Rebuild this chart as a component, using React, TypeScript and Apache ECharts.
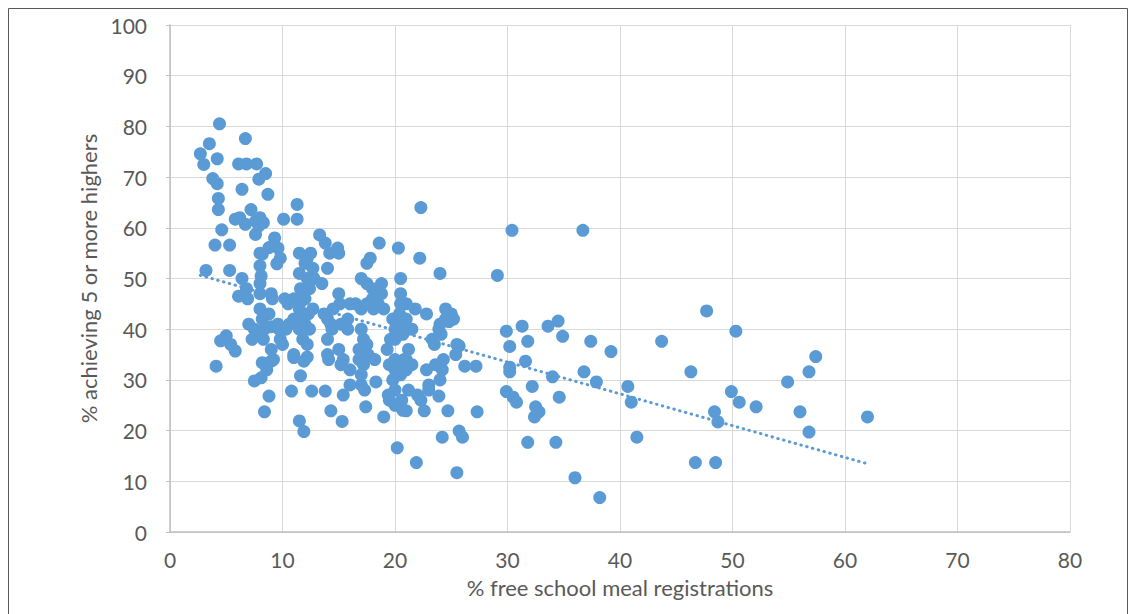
import { useEffect, useRef } from "react";
import * as echarts from "echarts";

// Schools: [% free school meal registrations, % achieving 5 or more highers]
const schoolPoints: [number, number][] = [
  [2.7, 74.6], [3.0, 72.5], [3.5, 76.6], [4.2, 73.6], [3.8, 69.7], [4.2, 68.7], [4.4, 80.5],
  [4.3, 65.8], [4.3, 63.6], [4.0, 56.6], [4.6, 59.6], [3.2, 51.6], [4.1, 32.7], [4.5, 37.7],
  [5.0, 38.7], [5.4, 37.0], [5.3, 56.6], [5.3, 51.6], [5.8, 35.7],
  [5.8, 61.7], [6.1, 72.6], [6.8, 72.6], [7.7, 72.6], [6.7, 77.6], [6.4, 67.6], [6.7, 60.7],
  [7.6, 61.3], [7.9, 60.4], [7.6, 58.7], [7.2, 63.6], [7.9, 69.6], [8.5, 70.7], [8.7, 66.6],
  [6.1, 46.5], [6.4, 50.0], [6.8, 48.0], [6.9, 46.0], [6.2, 62.0], [7.0, 41.0], [7.5, 40.0],
  [7.3, 38.0], [7.5, 29.8], [8.1, 30.4], [8.0, 62.0], [8.3, 61.0], [8.0, 55.0], [8.0, 52.5],
  [8.1, 50.5], [8.0, 49.0], [8.0, 47.0], [8.0, 44.0], [8.2, 42.0], [8.0, 39.0], [8.4, 40.0],
  [8.3, 38.0], [8.2, 33.4], [8.8, 26.8], [8.4, 23.7], [8.6, 32.0],
  [8.8, 56.1], [8.2, 54.8], [9.5, 52.9], [9.3, 58.0], [9.6, 56.0], [9.8, 54.0], [9.0, 47.0],
  [9.1, 46.0], [8.8, 43.0], [9.0, 40.5], [9.0, 36.0], [9.2, 34.0], [9.0, 33.7], [9.6, 41.0],
  [9.8, 38.0], [9.7, 40.0], [10.0, 37.0], [10.1, 61.7], [10.2, 46.0], [10.3, 40.0], [10.5, 45.0],
  [10.8, 27.8], [10.6, 41.0],
  [11.0, 46.0], [11.0, 42.0], [11.2, 41.0], [11.0, 35.0], [11.0, 34.4], [11.9, 33.7], [11.6, 30.8],
  [11.3, 64.6], [11.3, 61.7], [11.5, 55.0], [11.5, 51.0], [11.6, 48.0], [11.8, 47.0], [11.5, 44.0],
  [11.8, 42.0], [11.5, 40.0], [11.8, 38.0], [11.5, 21.9], [11.9, 19.8], [12.0, 53.0], [12.2, 54.0],
  [12.2, 50.0], [12.4, 48.0], [12.0, 46.0], [12.3, 43.0], [12.0, 41.0], [12.4, 40.0], [12.2, 37.0],
  [12.5, 55.0], [12.7, 52.0], [12.8, 50.0], [12.7, 44.0], [12.6, 27.8], [12.2, 34.5],
  [13.3, 58.6], [13.8, 57.0], [13.5, 49.0], [14.0, 52.0], [13.7, 43.0], [14.0, 42.0], [14.0, 38.0],
  [14.0, 35.0], [14.1, 34.0], [13.8, 27.8], [14.2, 55.0], [14.5, 44.0], [14.3, 41.0], [14.4, 40.0],
  [14.3, 23.9], [14.9, 56.0], [15.0, 55.0], [15.0, 47.0], [15.1, 45.0], [15.2, 41.0], [15.0, 36.0],
  [15.4, 34.0], [15.2, 33.0], [15.4, 27.0], [15.3, 21.8], [15.8, 42.0], [15.8, 40.0], [16.0, 45.0],
  [16.0, 32.0], [16.0, 29.0],
  [16.5, 45.0], [16.8, 36.0], [16.8, 34.0], [17.0, 50.0], [17.0, 44.0], [17.0, 40.0], [17.2, 38.0],
  [17.2, 33.0], [17.0, 31.0], [17.0, 29.0], [17.3, 28.0], [17.5, 49.0], [17.5, 53.0], [17.8, 54.0],
  [17.5, 45.0], [17.5, 37.0], [17.6, 35.0], [17.4, 24.7], [18.0, 48.0], [18.0, 46.0], [18.1, 44.0],
  [18.2, 34.0], [18.3, 29.6], [18.6, 57.0], [18.5, 45.0], [18.8, 49.0], [18.8, 47.0], [19.0, 44.0],
  [19.0, 22.7], [19.3, 36.0], [19.5, 33.0], [19.4, 27.0], [19.5, 26.0], [19.6, 38.0],
  [19.8, 42.0], [20.0, 40.0], [20.0, 38.0], [20.0, 34.0], [20.0, 32.0], [19.8, 30.0], [20.0, 28.0],
  [20.0, 25.0], [20.3, 56.0], [20.5, 50.0], [20.5, 47.0], [20.5, 45.0], [20.4, 43.0], [20.5, 41.0],
  [20.7, 39.0], [20.5, 33.0], [20.5, 31.0], [20.8, 34.0], [20.6, 26.0], [20.7, 24.0], [20.2, 16.6],
  [21.0, 45.0], [21.0, 42.0], [21.1, 40.0], [21.2, 36.0], [21.0, 34.0], [21.0, 32.0], [21.2, 28.0],
  [21.0, 23.9], [21.5, 40.0], [21.5, 33.0], [21.8, 44.0], [22.0, 27.0], [22.3, 64.0], [22.2, 54.0],
  [21.9, 13.7], [22.3, 26.0], [22.6, 23.9],
  [22.8, 43.0], [22.8, 32.0], [23.0, 29.0], [23.0, 28.0], [23.3, 38.0], [23.5, 37.0], [23.6, 33.0],
  [23.9, 40.0], [24.0, 51.0], [24.0, 41.0], [24.1, 39.0], [24.3, 34.0], [24.2, 32.0], [24.0, 30.0],
  [23.9, 26.8], [24.2, 18.7], [24.5, 44.0], [24.5, 42.0], [24.7, 23.9], [24.8, 41.5], [25.2, 42.0],
  [25.4, 35.0], [25.7, 36.7], [25.5, 37.0], [25.5, 11.7], [25.7, 19.9], [26.0, 18.7], [26.2, 32.7],
  [27.2, 32.7], [27.3, 23.7], [25.0, 43.0],
  [29.1, 50.6], [29.9, 39.6], [30.2, 36.6], [30.2, 32.5], [30.2, 31.6], [29.9, 27.7], [30.5, 26.6],
  [30.8, 25.6], [30.4, 59.5], [31.3, 40.6], [31.8, 37.6], [31.6, 33.7], [31.8, 17.7], [32.2, 28.7],
  [32.5, 24.7], [32.8, 23.7], [32.4, 22.7], [33.6, 40.6], [34.0, 30.6], [34.5, 41.6], [34.6, 26.6],
  [34.3, 17.7], [34.9, 38.6], [36.0, 10.7], [36.7, 59.5], [36.8, 31.6], [37.4, 37.6], [37.9, 29.6],
  [38.2, 6.8], [39.2, 35.6],
  [40.7, 28.7], [41.0, 25.6], [41.5, 18.7], [43.7, 37.6], [46.3, 31.6], [46.7, 13.7], [47.7, 43.6],
  [48.4, 23.7], [48.5, 13.7], [48.7, 21.7], [49.9, 27.7], [50.3, 39.6], [50.6, 25.6], [52.1, 24.7],
  [54.9, 29.6], [56.0, 23.7], [56.8, 31.6], [57.4, 34.6], [56.8, 19.7], [62.0, 22.7],
];

const xAxisTitle = "% free school meal registrations";
const yAxisTitle = "% achieving 5 or more highers";

// Ordinary least-squares linear trendline over the data's x range
function linearTrend(points: [number, number][]): [number, number][] {
  const n = points.length;
  let sx = 0, sy = 0, sxx = 0, sxy = 0;
  for (const [x, y] of points) {
    sx += x; sy += y; sxx += x * x; sxy += x * y;
  }
  const slope = (n * sxy - sx * sy) / (n * sxx - sx * sx);
  const intercept = (sy - slope * sx) / n;
  const xs = points.map((p) => p[0]);
  const x0 = Math.min(...xs);
  const x1 = Math.max(...xs);
  return [
    [x0, intercept + slope * x0],
    [x1, intercept + slope * x1],
  ];
}

const FONT = "Lato, 'Open Sans', sans-serif";
const TEXT = "#595959";
const BLUE = "#5B9BD5";

export default function App() {
  const ref = useRef<HTMLDivElement>(null);

  useEffect(() => {
    if (!ref.current) return;
    const chart = echarts.init(ref.current, undefined, { renderer: "svg" });
    chart.setOption({
      animation: false,
      backgroundColor: "#ffffff",
      textStyle: { fontFamily: FONT },
      graphic: [
        {
          type: "rect",
          shape: { x: 8.5, y: 8.5, width: 1119, height: 640 },
          style: { fill: "none", stroke: "#595959", lineWidth: 1 },
          silent: true,
        },
      ],
      grid: { left: 170, right: 63, top: 25, bottom: 82 },
      xAxis: {
        type: "value",
        min: 0,
        max: 80,
        interval: 10,
        name: xAxisTitle,
        nameLocation: "middle",
        nameGap: 44,
        nameTextStyle: { color: TEXT, fontSize: 22, fontFamily: FONT },
        axisLine: { show: true, lineStyle: { color: "#BFBFBF", width: 1.5 } },
        axisTick: { show: false },
        axisLabel: { color: TEXT, fontSize: 21, margin: 17, fontFamily: FONT },
        splitLine: { show: true, lineStyle: { color: "#D9D9D9", width: 1 } },
      },
      yAxis: {
        type: "value",
        min: 0,
        max: 100,
        interval: 10,
        name: yAxisTitle,
        nameLocation: "middle",
        nameGap: 67,
        nameTextStyle: { color: TEXT, fontSize: 22, fontFamily: FONT },
        axisLine: { show: true, lineStyle: { color: "#BFBFBF", width: 1.5 } },
        axisTick: { show: true, length: 4, lineStyle: { color: "#BFBFBF" } },
        axisLabel: { color: TEXT, fontSize: 21, margin: 23, fontFamily: FONT },
        splitLine: { show: true, lineStyle: { color: "#D9D9D9", width: 1 } },
      },
      series: [
        {
          type: "scatter",
          data: schoolPoints,
          symbol: "circle",
          symbolSize: 13,
          itemStyle: { color: BLUE, opacity: 1 },
          z: 2,
        },
        {
          type: "line",
          data: linearTrend(schoolPoints),
          showSymbol: false,
          symbol: "none",
          lineStyle: { color: BLUE, width: 3, type: [0.5, 5.5], cap: "round" },
          z: 3,
        },
      ],
    });
    return () => chart.dispose();
  }, []);

  return (
    <div
      ref={ref}
      style={{ position: "fixed", left: 0, top: 0, width: 1133, height: 614 }}
    />
  );
}
